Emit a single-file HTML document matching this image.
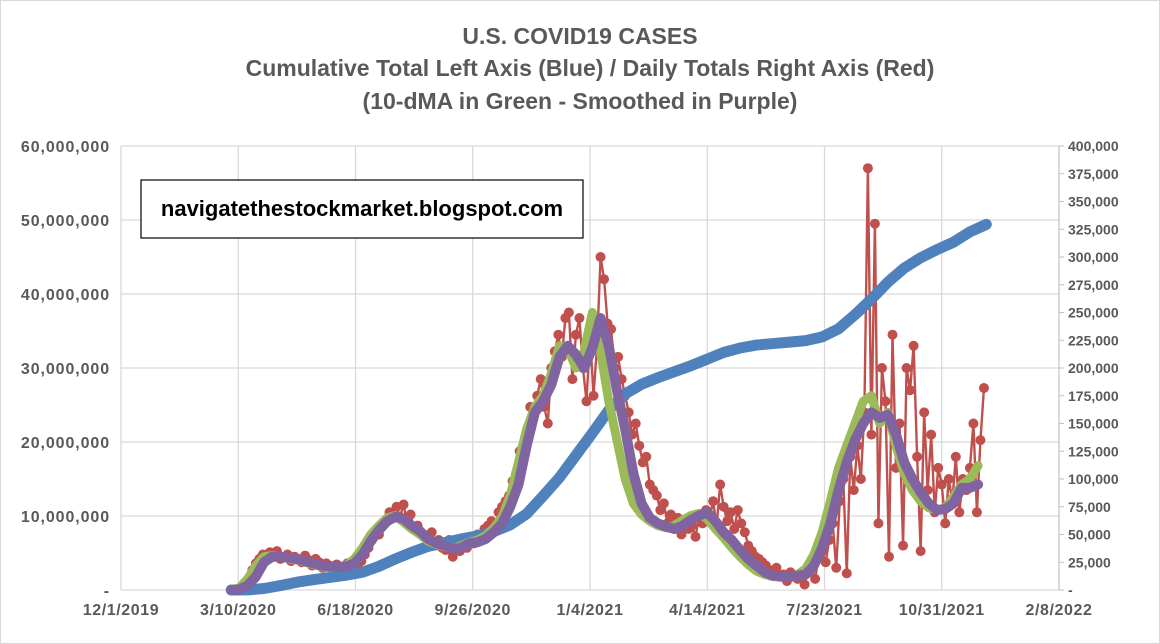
<!DOCTYPE html>
<html><head><meta charset="utf-8"><style>
body{margin:0;background:#fff;}
svg{display:block;font-family:"Liberation Sans",sans-serif;}
</style></head><body>
<svg id="c" width="1160" height="644">
<rect x="0.5" y="0.5" width="1159" height="643" fill="#fff" stroke="#d9d9d9"/>
<g font-weight="bold" fill="#595959" text-anchor="middle" font-size="23">
<text x="580" y="44">U.S. COVID19 CASES</text>
<text x="590" y="76">Cumulative Total Left Axis (Blue) / Daily Totals Right Axis (Red)</text>
<text x="580" y="109">(10-dMA in Green - Smoothed in Purple)</text>
</g>
<g id="grid"></g>
<g id="axes"></g>
<g id="series"></g>
<rect x="141" y="180" width="442" height="58" fill="#fff" stroke="#000" stroke-width="1.2"/>
<text x="362" y="216" text-anchor="middle" font-weight="bold" font-size="22" fill="#000">navigatethestockmarket.blogspot.com</text>
</svg>
<script>
// cumulative (millions), every 14 days from day 94 (days since 12/1/2019)
const blueStart=94, blueStep=14;
const blueVals=[0,0.01,0.2,0.6,1.05,1.4,1.7,2.0,2.4,3.2,4.2,5.1,5.9,6.4,6.9,7.3,7.9,8.8,10.3,12.7,15.2,18.2,21.2,24.3,26.5,27.8,28.7,29.5,30.3,31.2,32.1,32.7,33.1,33.3,33.5,33.7,34.2,35.3,37.2,39.3,41.6,43.5,44.9,46.0,47.0,48.4,49.4];
// daily (thousands), every 3 days from day 94
const redStart=94, redStep=3;
const redVals=[0.2,0.5,1,2.5,5,10,18,24,28,32,30,34,33,
35,28,30,32,26,30,28,25,31,27,22,28,
25,20,24,22,18,23,20,19,24,17,22,20,
26,32,38,45,52,50,58,62,70,68,75,66,77,
60,68,55,58,50,48,44,52,40,45,38,36,
45,30,40,35,44,38,48,42,50,45,55,58,62,56,
70,75,80,85,98,105,125,130,140,165,160,175,190,165,
150,200,215,230,210,245,250,190,230,245,200,170,230,175,220,
300,280,240,235,200,210,190,175,160,140,150,130,115,120,95,
90,85,72,78,60,68,55,65,50,62,55,58,48,66,
60,72,65,80,58,95,75,62,70,55,72,60,52,
40,35,30,28,25,22,18,15,20,12,14,8,16,12,10,14,5,18,
20,10,30,35,25,45,60,20,80,100,15,120,90,130,100,
160,380,140,330,60,200,170,30,230,110,150,40,200,180,220,120,35,
160,90,140,70,110,95,60,100,80,120,70,100,90,110,150,70,135,182];
// 10-dMA and smoothed (thousands), weekly from day 94
const avgStart=94, avgStep=7;
const greenVals=[0.2,2,10,22,30,31,30,28,27,25,23,21,20,21,22,28,38,50,58,65,67,61,55,50,44,41,39,37,40,43,45,49,56,66,85,115,145,165,175,195,220,218,200,215,250,215,170,135,100,78,68,62,58,56,58,63,67,69,64,55,47,38,30,23,17,14,12,12,12,14,19,32,52,80,110,130,150,170,175,150,160,130,105,90,80,74,72,74,84,95,100,112];
const purpleVals=[0.1,0.5,4,12,25,30,30,29,28,26,24,22,21,21,21,24,32,44,54,62,66,64,58,53,46,42,40,37,38,42,43,46,52,60,75,95,130,160,170,185,210,220,212,200,218,245,220,180,145,105,78,65,60,57,55,58,63,67,70,62,52,45,36,28,22,16,13,12,12,13,14,22,38,60,90,115,135,150,160,155,158,140,115,100,88,78,72,73,78,92,92,95];
const leftTicks=["-","10,000,000","20,000,000","30,000,000","40,000,000","50,000,000","60,000,000"];
const rightTicks=["-","25,000","50,000","75,000","100,000","125,000","150,000","175,000","200,000","225,000","250,000","275,000","300,000","325,000","350,000","375,000","400,000"];
const dateLabels=["12/1/2019","3/10/2020","6/18/2020","9/26/2020","1/4/2021","4/14/2021","7/23/2021","10/31/2021","2/8/2022"];

const X0=121,X1=1059,Y0=590,Y1=146;
const xs=d=>X0+d/800*(X1-X0);
const yl=v=>Y0-v/60*(Y0-Y1);
const yr=v=>Y0-v/400*(Y0-Y1);
const NS="http://www.w3.org/2000/svg";
function mk(t,a,p){const e=document.createElementNS(NS,t);for(const k in a)e.setAttribute(k,a[k]);p.appendChild(e);return e;}
const grid=document.getElementById('grid'),axes=document.getElementById('axes'),ser=document.getElementById('series');
leftTicks.forEach((t,i)=>{
  const y=Y0-i*(Y0-Y1)/(leftTicks.length-1);
  const l=mk('line',{x1:X0,x2:X1,y1:y,y2:y,stroke:'#d9d9d9','stroke-width':1.3},grid);
  
  
  const tx=mk('text',{x:110,y:y+6,'text-anchor':'end','font-size':16,'letter-spacing':'0.9','font-weight':'bold',fill:'#595959'},axes);
  tx.textContent=t;
  
  
});
rightTicks.forEach((t,i)=>{
  const y=Y0-i*(Y0-Y1)/(rightTicks.length-1);
  const tk=mk('line',{x1:X1,x2:X1+5,y1:y,y2:y,stroke:'#bfbfbf'},axes);
  
  
  const tx=mk('text',{x:1068,y:y+5,'font-size':14,'font-weight':'bold',fill:'#595959'},axes);
  tx.textContent=t;
  
  
});
dateLabels.forEach((t,i)=>{
  const x=xs(i*100);
  const l=mk('line',{x1:x,x2:x,y1:Y1,y2:Y0,stroke:'#d9d9d9','stroke-width':1.3},grid);
  
  
  const tx=mk('text',{x:x,y:615,'text-anchor':'middle','font-size':16,'letter-spacing':'0.6','font-weight':'bold',fill:'#595959'},axes);
  tx.textContent=t;
  
  
});
const ra=mk('line',{x1:X1,x2:X1,y1:Y1,y2:Y0,stroke:'#bfbfbf'},axes);


function pts(vals,start,step,yf){return vals.map((v,i)=>[xs(start+i*step),yf(v)]);}
// red daily
const rp=pts(redVals,redStart,redStep,yr);
const rl=mk('polyline',{points:rp.map(p=>p.join(',')).join(' '),fill:'none',stroke:'#c0504d','stroke-width':2.4},ser);


rp.forEach(p=>{const c=mk('circle',{cx:p[0],cy:p[1],r:5,fill:'#c0504d'},ser);
  
  });
// blue cumulative
const bp=pts(blueVals,blueStart,blueStep,yl);
const bl=mk('polyline',{points:bp.map(p=>p.join(',')).join(' '),fill:'none',stroke:'#4f81bd','stroke-width':11,'stroke-linecap':'round','stroke-linejoin':'round'},ser);


// green 10-dMA
const gp=pts(greenVals,avgStart,avgStep,yr);
const gl=mk('polyline',{points:gp.map(p=>p.join(',')).join(' '),fill:'none',stroke:'#9bbb59','stroke-width':9,'stroke-linecap':'round','stroke-linejoin':'round'},ser);


// purple smoothed
const pp=pts(purpleVals,avgStart,avgStep,yr);
const pl=mk('polyline',{points:pp.map(p=>p.join(',')).join(' '),fill:'none',stroke:'#8064a2','stroke-width':10,'stroke-linecap':'round','stroke-linejoin':'round'},ser);


</script>
</body></html>
